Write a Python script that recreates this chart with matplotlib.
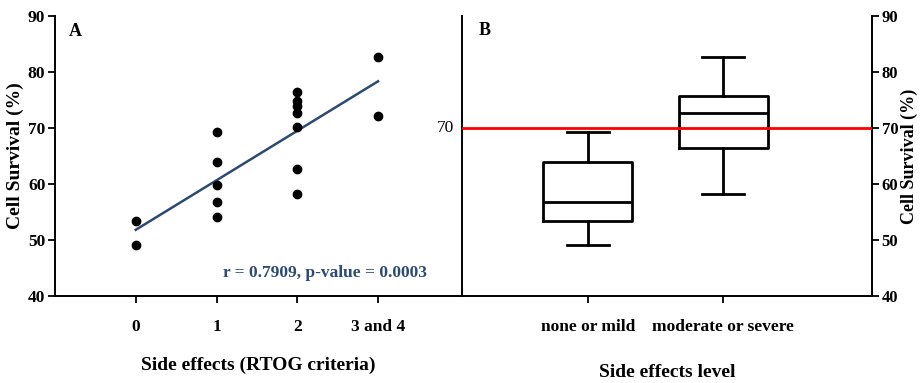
"""Cell survival vs. RTOG side effects: scatter + regression (A) and box plot (B)"""
import numpy as np
from matplotlib import pyplot as plt
from matplotlib import transforms

# survival (%) per patient, grouped by RTOG side-effect grade
grade0 = [53.4, 49.1]
grade1 = [69.2, 63.9, 59.9, 56.7, 54.1]
grade2 = [76.4, 74.9, 73.9, 72.6, 70.1, 62.7, 58.3]
grade34 = [82.7, 72.2]

grade_pos = [0, 1, 2, 3]
grade_labels = ["0", "1", "2", "3 and 4"]
level_labels = ["none or mild", "moderate or severe"]
threshold = 70
stats_text = "r = 0.7909, p-value = 0.0003"


def box_stats(values, label):
    v = np.sort(values)
    q1, med, q3 = np.percentile(v, [25, 50, 75], method="weibull")
    return dict(label=label, med=med, q1=q1, q3=q3, whislo=v.min(), whishi=v.max(), fliers=[])


if __name__ == "__main__":
    plt.rcParams["font.family"] = "Liberation Serif"
    plt.rcParams["font.weight"] = "bold"
    plt.rcParams["axes.labelweight"] = "bold"

    fig = plt.figure(figsize=(9.21, 3.83), dpi=100)
    ax1 = fig.add_axes([55 / 921, 1 - 296 / 383, 407 / 921, 280 / 383])
    ax2 = fig.add_axes([462 / 921, 1 - 296 / 383, 410 / 921, 280 / 383])

    groups = [grade0, grade1, grade2, grade34]
    xs = np.concatenate([[g] * len(vals) for g, vals in zip(grade_pos, groups)])
    ys = np.concatenate(groups)

    dark_blue = "#2b4a74"

    # --- panel A
    ax1.plot(xs, ys, "o", color="black", markersize=6, zorder=3)
    slope, icpt = np.polyfit(xs, ys, 1)
    fx = np.array([grade_pos[0], grade_pos[-1]])
    ax1.plot(fx, icpt + slope * fx, color=dark_blue, linewidth=1.8, zorder=2)

    ax1.set_xlim(-1, 4.04)
    ax1.set_ylim(40, 90)
    ax1.set_yticks(range(40, 91, 10))
    ax1.set_xticks(grade_pos)
    ax1.set_xticklabels(grade_labels)
    ax1.tick_params(axis="x", pad=11.5, labelsize=12.5, width=1.3, length=5)
    ax1.tick_params(axis="y", labelsize=12.5, width=1.3, length=5, pad=2)
    ax1.set_xlabel("Side effects (RTOG criteria)", fontsize=14, labelpad=16)
    ax1.set_ylabel("Cell Survival (%)", fontsize=14, labelpad=3)
    for s in ["top", "right"]:
        ax1.spines[s].set_visible(False)
    for s in ["left", "bottom"]:
        ax1.spines[s].set_linewidth(1.4)
    ax1.text(0.035, 0.975, "A", transform=ax1.transAxes, fontsize=13, va="top")
    ax1.text(0.915, 0.082, stats_text, transform=ax1.transAxes, fontsize=12.5,
             color=dark_blue, ha="right", va="center")

    # --- panel B
    low = grade0 + grade1
    high = grade2 + grade34
    stats = [box_stats(low, level_labels[0]), box_stats(high, level_labels[1])]
    line = dict(color="black", linewidth=2)
    ax2.bxp(stats, positions=[1, 2], widths=0.66, capwidths=0.31, showfliers=False,
            boxprops=line, whiskerprops=line, capprops=line, medianprops=line)
    ax2.axhline(threshold, color="red", linewidth=2, zorder=4)
    trans = transforms.blended_transform_factory(ax2.transAxes, ax2.transData)
    ax2.text(-0.018, threshold, str(threshold), transform=trans, ha="right",
             va="center", fontsize=12.5, fontweight="normal")

    ax2.set_xlim(0.07, 3.1)
    ax2.set_ylim(40, 90)
    ax2.set_yticks(range(40, 91, 10))
    ax2.yaxis.tick_right()
    ax2.yaxis.set_label_position("right")
    ax2.set_xticks([1, 2])
    ax2.set_xticklabels(level_labels)
    ax2.tick_params(axis="x", pad=11.5, labelsize=12.5, width=1.3, length=5)
    ax2.tick_params(axis="y", labelsize=12, width=1.3, length=5, pad=2)
    ax2.set_xlabel("Side effects level", fontsize=14, labelpad=21)
    ax2.set_ylabel("Cell Survival (%)", fontsize=13, labelpad=2)
    ax2.spines["top"].set_visible(False)
    for s in ["left", "right", "bottom"]:
        ax2.spines[s].set_linewidth(1.4)
    ax2.text(0.04, 0.98, "B", transform=ax2.transAxes, fontsize=13, va="top")

    fig.savefig("out.png", dpi=100)
